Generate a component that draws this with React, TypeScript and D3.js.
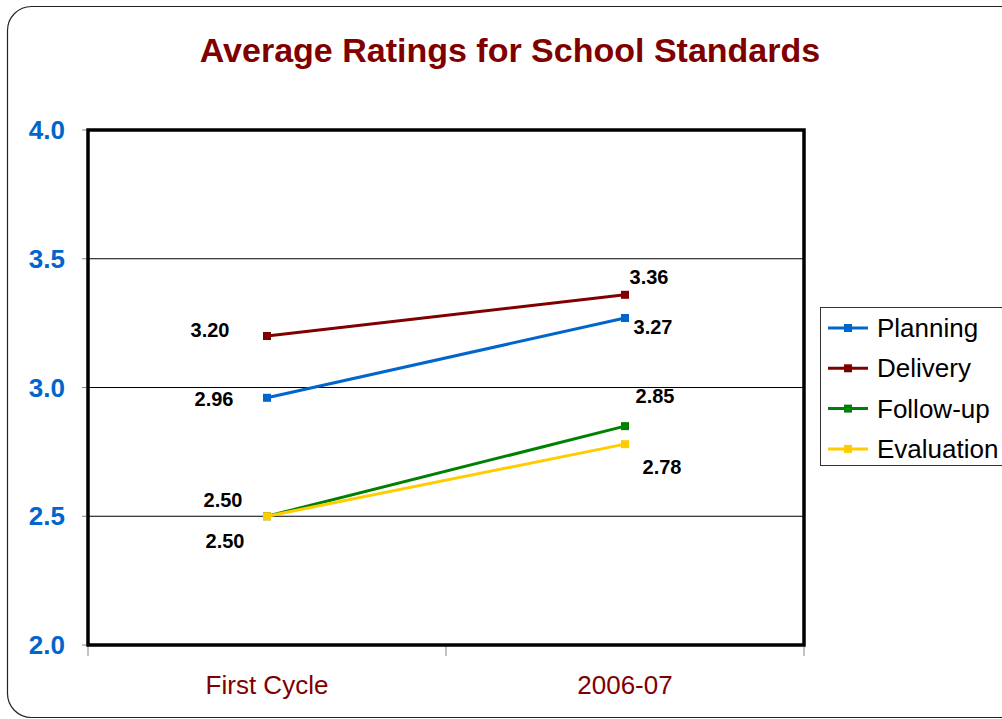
import React from 'react';
import * as d3 from 'd3';

const categories = ['First Cycle', '2006-07'];
const seriesNames = ['Planning', 'Delivery', 'Follow-up', 'Evaluation'];
const planning = [2.96, 3.27];
const delivery = [3.2, 3.36];
const followUp = [2.5, 2.85];
const evaluation = [2.5, 2.78];
const yTicks = [2.0, 2.5, 3.0, 3.5, 4.0];

const colors = ['#0066CC', '#800000', '#008000', '#FFCC00'];
const allSeries = [planning, delivery, followUp, evaluation];

// label offsets per series / point (dx, dy from point to text baseline)
const labelOffsets = [
  [[-53, 8], [28, 16]],
  [[-57, 1], [24, -11]],
  [[-44, -9], [30, -23]],
  [[-42, 32], [37, 30]],
];

export default function App() {
  const width = 1002;
  const height = 719;
  const plot = { left: 88, top: 130, right: 804, bottom: 645 };

  const x = d3.scaleBand().domain(categories).range([plot.left, plot.right]);
  const y = d3.scaleLinear().domain([2, 4]).range([plot.bottom, plot.top]);
  const cx = (c: string) => (x(c) as number) + x.bandwidth() / 2;

  const line = d3.line<number>()
    .x((_, i) => cx(categories[i]))
    .y(d => y(d));

  const font = 'Arial, "Liberation Sans", sans-serif';

  return (
    <div style={{ position: 'absolute', left: 0, top: 0 }}>
      <svg width={width} height={height} style={{ display: 'block', fontFamily: font }}>
        <rect x={0} y={0} width={width} height={height} fill="#fff" />
        {/* outer frame */}
        <rect x={7.5} y={6.5} width={1030} height={711} rx={24} fill="none" stroke="#222" strokeWidth={1.2} />

        <text x={510} y={62} textAnchor="middle" fill="#800000" fontWeight="bold" fontSize={34}>
          Average Ratings for School Standards
        </text>

        {/* gridlines */}
        {yTicks.filter(t => t > 2 && t < 4).map(t => (
          <line key={t} x1={plot.left} x2={plot.right} y1={y(t)} y2={y(t)} stroke="#000" strokeWidth={1} />
        ))}

        {/* y ticks */}
        {yTicks.map(t => (
          <g key={'yt' + t}>
            <line x1={plot.left - 6} x2={plot.left} y1={y(t)} y2={y(t)} stroke="#888" />
            <text x={65} y={y(t) + 9} textAnchor="end" fill="#0066CC" fontWeight="bold" fontSize={26}>
              {t.toFixed(1)}
            </text>
          </g>
        ))}

        {/* x ticks */}
        {[...categories.map(c => x(c) as number), plot.right].map((v, i) => (
          <line key={'xt' + i} x1={v} x2={v} y1={plot.bottom} y2={plot.bottom + 11} stroke="#888" />
        ))}
        {categories.map(c => (
          <text key={c} x={cx(c)} y={694} textAnchor="middle" fill="#800000" fontSize={26}>
            {c}
          </text>
        ))}

        {/* plot border */}
        <rect x={plot.left} y={plot.top} width={plot.right - plot.left} height={plot.bottom - plot.top}
          fill="none" stroke="#000" strokeWidth={3.5} />

        {/* series */}
        {allSeries.map((s, si) => (
          <g key={seriesNames[si]}>
            <path d={line(s) as string} fill="none" stroke={colors[si]} strokeWidth={3} />
            {s.map((v, i) => (
              <rect key={i} x={cx(categories[i]) - 4} y={y(v) - 4} width={8} height={8} fill={colors[si]} />
            ))}
          </g>
        ))}

        {/* data labels */}
        {allSeries.map((s, si) => s.map((v, i) => (
          <text key={'l' + si + i} x={cx(categories[i]) + labelOffsets[si][i][0]} y={y(v) + labelOffsets[si][i][1]}
            textAnchor="middle" fontWeight="bold" fontSize={20} fill="#000">
            {v.toFixed(2)}
          </text>
        )))}

        {/* legend */}
        <rect x={820.5} y={307.5} width={200} height={158} fill="#fff" stroke="#333" strokeWidth={1} />
        {seriesNames.map((n, i) => {
          const ly = 328 + i * 40.3;
          return (
            <g key={'lg' + n}>
              <line x1={828} x2={868} y1={ly} y2={ly} stroke={colors[i]} strokeWidth={3} />
              <rect x={844} y={ly - 4} width={8} height={8} fill={colors[i]} />
              <text x={877} y={ly + 9} fontSize={26} fill="#000">{n}</text>
            </g>
          );
        })}
      </svg>
    </div>
  );
}
